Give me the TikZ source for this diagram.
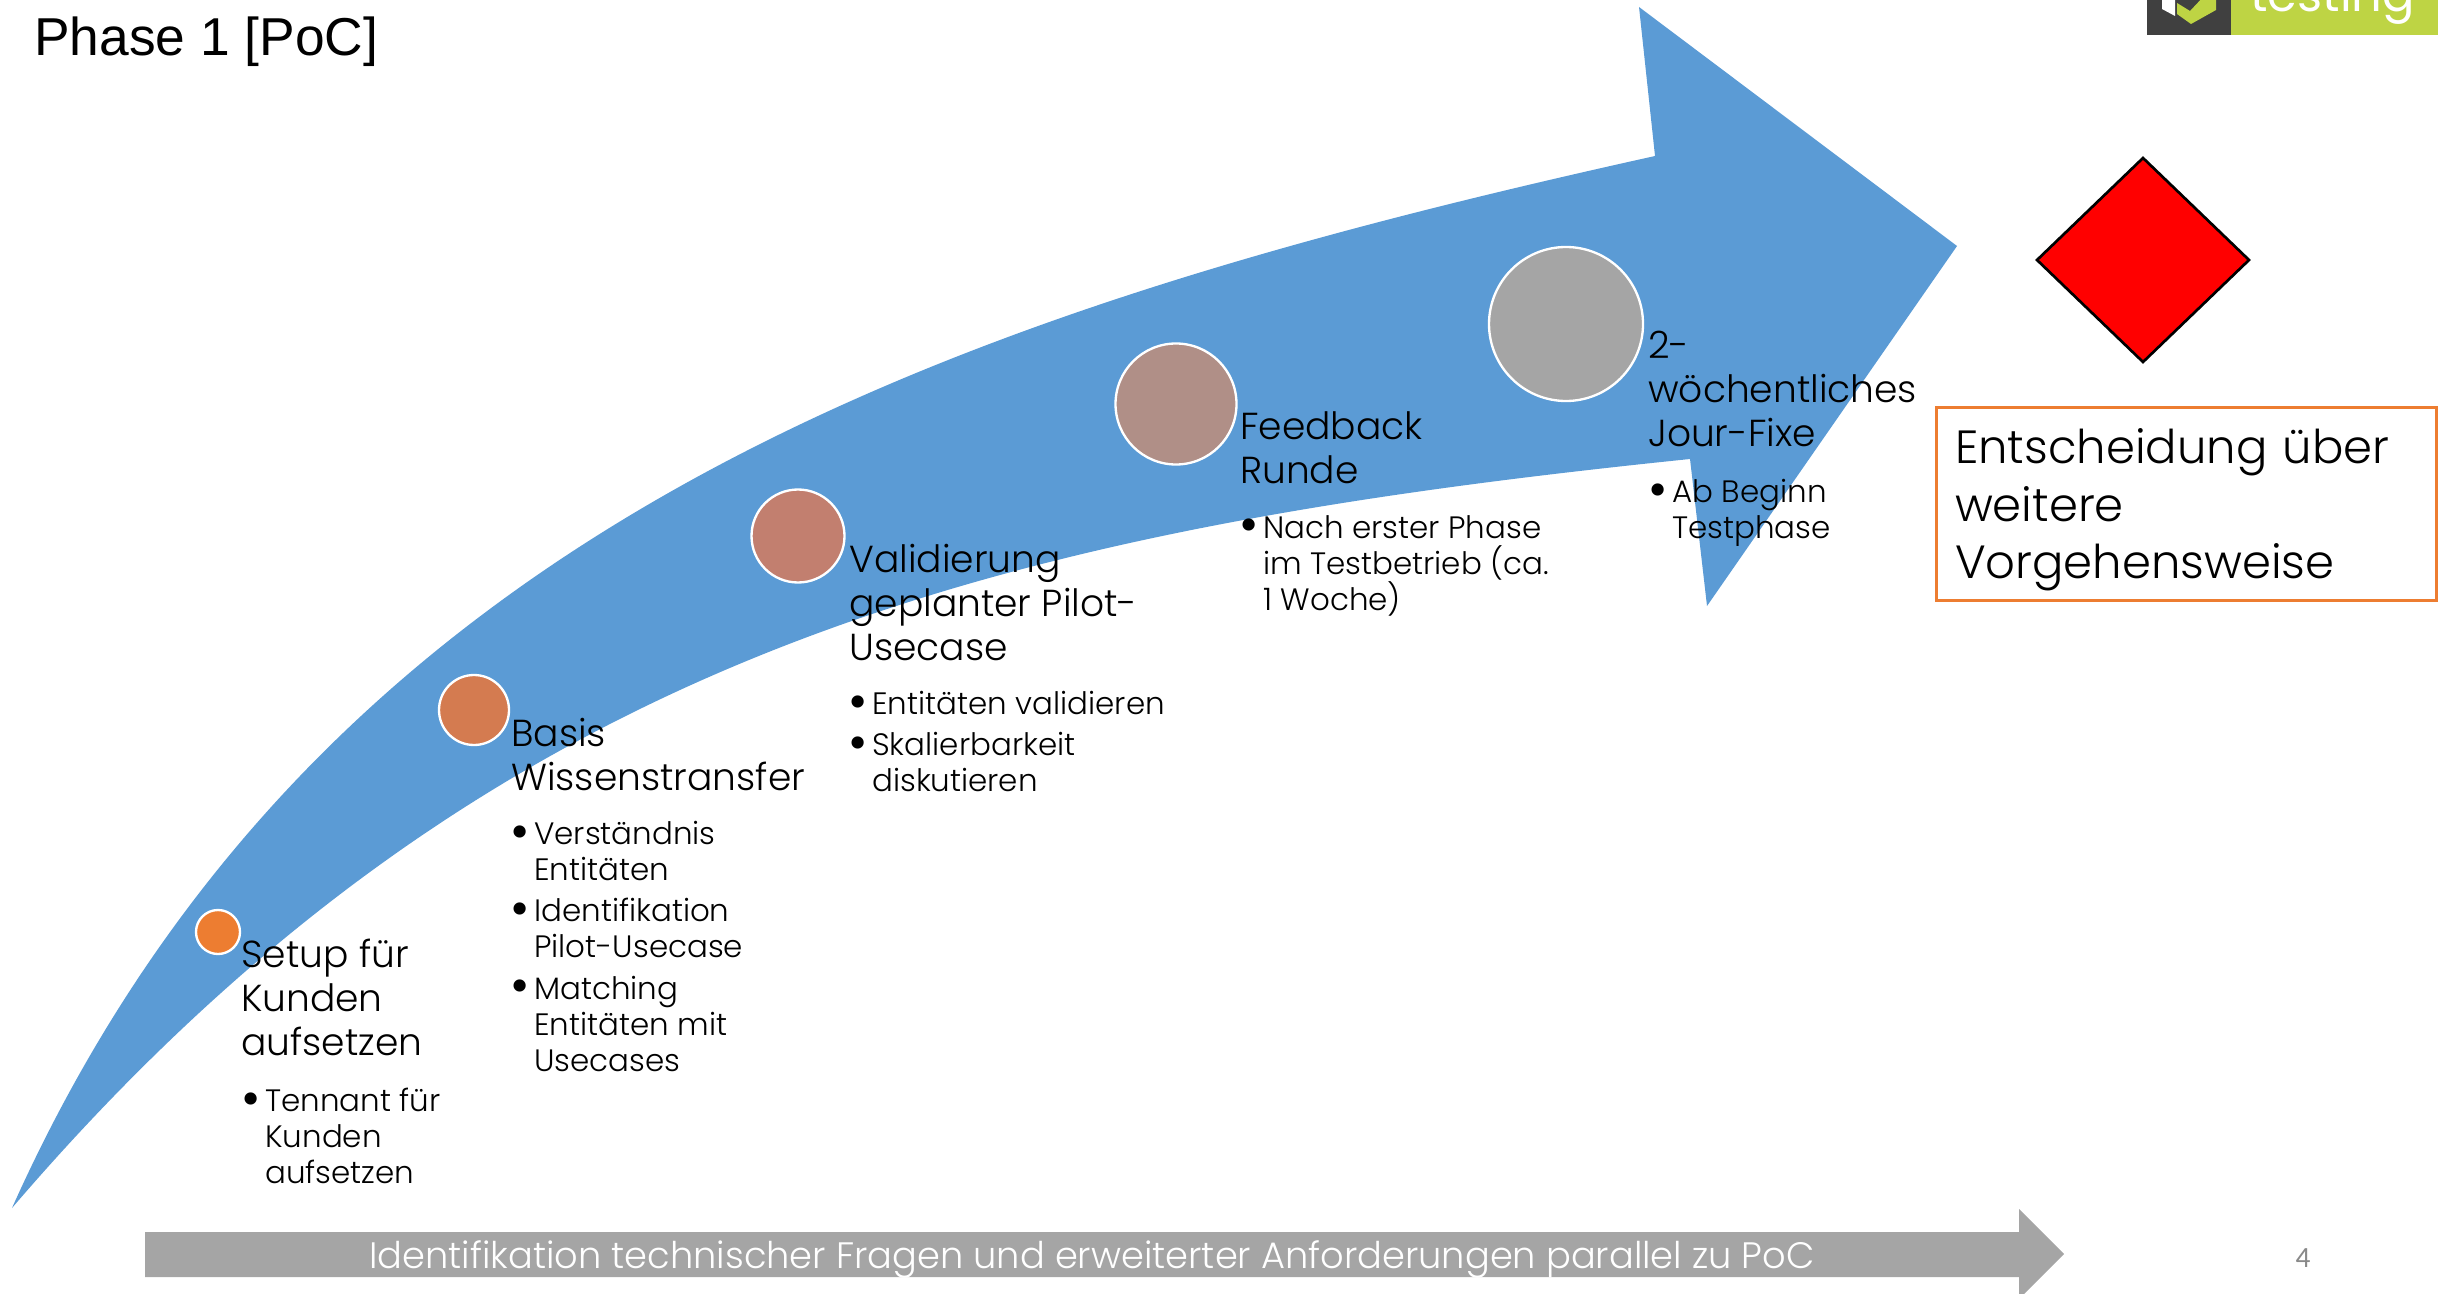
\documentclass[tikz,border=0pt]{standalone}
\usepackage{fontspec}
\setmainfont{Poppins}[UprightFont=*-Light]
\newfontfamily\titlefont{Liberation Sans}
\newfontfamily\pagefont{Carlito}
\newfontfamily\logofont{Poppins}
\newcommand{\bulletbox}{\makebox[15pt][l]{\hspace*{-2.5pt}\raisebox{-0.15em}{\scalebox{1.7}{•}}}}
\newcommand{\indentbox}{\hspace*{15pt}}
\definecolor{arrowblue}{RGB}{91,155,213}
\definecolor{boxorange}{RGB}{237,125,49}
\definecolor{bargray}{RGB}{165,165,165}
\definecolor{logogreen}{RGB}{190,212,68}
\definecolor{logodark}{RGB}{64,64,64}
\tikzset{
  headtext/.style={anchor=north west,inner sep=0pt,align=left,font=\fontsize{28.2}{33}\selectfont},
  bullettext/.style={anchor=north west,inner sep=0pt,align=left,font=\fontsize{23.2}{27}\selectfont},
  stepdot/.style={draw=white,line width=1.75pt}
}
\begin{document}
\begin{tikzpicture}[x=0.75pt,y=0.75pt,yscale=-1,xscale=1]
\useasboundingbox (0,0) rectangle (2443,1294);

%Shape: Curved arrow
\draw  [fill=arrowblue,draw=none] (12,1208) .. controls (320,520) and (960,310) .. (1655,156) -- (1639,7) -- (1957,246) -- (1707,606) -- (1690,459) .. controls (1000,530) and (490,650) .. (12,1208) -- cycle ;
%Shape: Circle
\draw  [stepdot,fill=boxorange] (218,932) circle (22) ;
%Shape: Circle
\draw  [stepdot,fill={rgb,255:red,212;green,123;blue,80}] (474,710) circle (35) ;
%Shape: Circle
\draw  [stepdot,fill={rgb,255:red,194;green,127;blue,111}] (798,536) circle (46.5) ;
%Shape: Circle
\draw  [stepdot,fill={rgb,255:red,176;green,143;blue,135}] (1176,404) circle (60.5) ;
%Shape: Circle
\draw  [stepdot,fill=bargray] (1566,324) circle (77) ;
%Shape: Diamond
\draw  [fill=red,line width=2pt] (2143,158) -- (2249,260) -- (2143,362) -- (2037,260) -- cycle ;
%Shape: Gray arrow
\draw  [fill=bargray,draw=none] (145,1232) -- (2019,1232) -- (2019,1209) -- (2064,1254) -- (2019,1299) -- (2019,1277) -- (145,1277) -- cycle ;
%Shape: Logo
\fill [logodark] (2147,-5) rectangle (2231,35) ;
\fill [logogreen] (2231,-5) rectangle (2438,35) ;
\fill [white] (2162,-5) -- (2162,9) -- (2175,16) -- (2175,-5) -- cycle ;
\fill [logogreen] (2177,3) -- (2190,11) -- (2205,-5) -- (2216,-5) -- (2216,10) -- (2191,24) -- (2177,14) -- cycle ;

% Text Node
\draw (2250,12) node (logotext) [anchor=base west,inner sep=0pt,text=white,font=\logofont\fontsize{36}{40}\selectfont]  {testing};
% Text Node
\draw (34,56) node (phasetitle) [anchor=base west,inner sep=0pt,font=\titlefont\fontsize{40}{46}\selectfont]  {Phase 1 [PoC]};
% Text Node
\draw (241,939) node (headone) [headtext]  {Setup für\\Kunden\\aufsetzen};
% Text Node
\draw (245,1088) node (listone) [bullettext]  {\bulletbox Tennant für\\\indentbox Kunden\\\indentbox aufsetzen};
% Text Node
\draw (511,718) node (headtwo) [headtext]  {Basis\\Wissenstransfer};
% Text Node
\draw (514,821) node (listtwo) [bullettext]  {\bulletbox Verständnis\\\indentbox Entitäten\\[4pt]\bulletbox Identifikation\\\indentbox Pilot-Usecase\\[4pt]\bulletbox Matching\\\indentbox Entitäten mit\\\indentbox Usecases};
% Text Node
\draw (849,544) node (headthree) [headtext]  {Validierung\\geplanter Pilot-\\Usecase};
% Text Node
\draw (852,691) node (listthree) [bullettext]  {\bulletbox Entitäten validieren\\[4pt]\bulletbox Skalierbarkeit\\\indentbox diskutieren};
% Text Node
\draw (1240,411) node (headfour) [headtext]  {Feedback\\Runde};
% Text Node
\draw (1243,515) node (listfour) [bullettext]  {\bulletbox Nach erster Phase\\\indentbox im Testbetrieb (ca.\\\indentbox 1 Woche)};
% Text Node
\draw (1648,331) node (headfive) [headtext]  {2-\\wöchentliches\\Jour-Fixe};
% Text Node
\draw (1652,479) node (listfive) [bullettext]  {\bulletbox Ab Beginn\\\indentbox Testphase};
% Text Node
\draw (1935,406) node (decisionbox) [anchor=north west,draw=boxorange,line width=2pt,minimum height=145pt,text width=347pt,inner xsep=14pt,inner ysep=0pt,align=left,font=\fontsize{34.9}{43}\selectfont]  {\rule{0pt}{35pt}Entscheidung über\\weitere\\Vorgehensweise};
% Text Node
\draw (1092,1259) node (bartext) [inner sep=0pt,text=white,font=\fontsize{27.6}{30}\selectfont]  {Identifikation technischer Fragen und erweiterter Anforderungen parallel zu PoC};
% Text Node
\draw (2303,1258) node (pagenumber) [inner sep=0pt,text={rgb,255:red,137;green,137;blue,137},font=\pagefont\fontsize{22}{26}\selectfont]  {4};

\end{tikzpicture}
\end{document}
